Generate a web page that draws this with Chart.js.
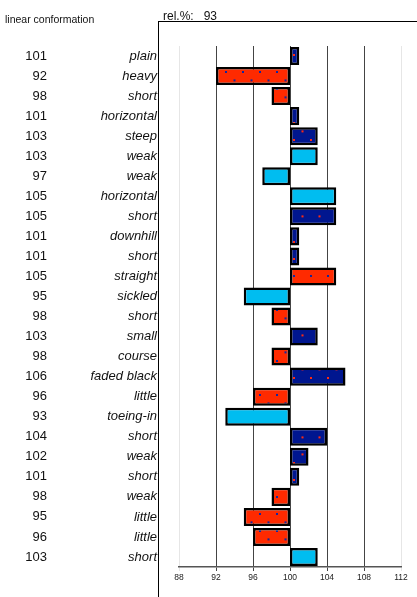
<!DOCTYPE html>
<html>
<head>
<meta charset="utf-8">
<script src="https://cdn.jsdelivr.net/npm/chart.js@4/dist/chart.umd.min.js"></script>
<style>
html,body{margin:0;padding:0;background:#fff;}
#wrap{position:relative;width:417px;height:597px;overflow:hidden;font-family:"Liberation Sans",Arial,sans-serif;}
#c{position:absolute;left:0;top:0;}
#title{position:absolute;left:5px;top:13px;font-size:10.5px;color:#111;}
#rel{position:absolute;left:163px;top:9px;font-size:12px;color:#111;}
#rel span{margin-left:10px;}
#frame{position:absolute;left:158px;top:21px;width:259px;height:580px;border-left:1.5px solid #000;border-top:1.5px solid #000;box-sizing:border-box;}
</style>
</head>
<body>
<div id="wrap">
<canvas id="c" width="417" height="597"></canvas>
<div id="frame"></div>
<div id="title">linear conformation</div>
<div id="rel">rel.%:<span>93</span></div>
</div>
<script>
const traits = ["plain","heavy","short","horizontal","steep","weak","weak","horizontal","short","downhill","short","straight","sickled","short","small","course","faded black","little","toeing-in","short","weak","short","weak","little","little","short"];
const values = [101,92,98,101,103,103,97,105,105,101,101,105,95,98,103,98,106,96,93,104,102,101,98,95,96,103];
const colorKeys = ["b","r","r","b","b","c","c","c","b","b","b","r","c","r","b","r","b","r","c","b","b","b","r","r","r","c"];
const xTicks = [88,92,96,100,104,108,112];
const baseValue = 100;

function makePattern(bg, dot){
  const p = document.createElement('canvas');
  p.width = 17; p.height = 17;
  const g = p.getContext('2d');
  g.fillStyle = bg; g.fillRect(0,0,17,17);
  g.fillStyle = dot;
  g.fillRect(4,3,2,2);
  g.fillRect(12.5,11.4,2,2);
  return document.getElementById('c').getContext('2d').createPattern(p,'repeat');
}
const fills = {
  b: makePattern('#00168f','#ff2a10'),
  r: makePattern('#ff2a00','#1028a0'),
  c: '#00bdf0'
};

const labelPlugin = {
  id:'rowLabels',
  afterDraw(chart){
    const ctx = chart.ctx, y = chart.scales.y;
    ctx.save();
    ctx.fillStyle = '#111';
    ctx.textBaseline = 'middle';
    ctx.textAlign = 'right';
    traits.forEach((t,i)=>{
      const py = y.getPixelForValue(i);
      ctx.font = '13px "Liberation Sans", Arial, sans-serif';
      ctx.fillText(String(values[i]), 47, py);
      ctx.font = 'italic 13px "Liberation Sans", Arial, sans-serif';
      ctx.fillText(t, 157, py);
    });
    ctx.restore();
  }
};

new Chart(document.getElementById('c'), {
  type:'bar',
  data:{
    labels: traits,
    datasets:[{
      data: values.map(v=>[baseValue, v]),
      backgroundColor: colorKeys.map(k=>fills[k]),
      borderColor:'#000',
      borderWidth:2.5,
      borderSkipped:false,
      barPercentage:0.9,
      categoryPercentage:1
    }]
  },
  options:{
    indexAxis:'y',
    responsive:false,
    animation:false,
    devicePixelRatio:1,
    layout:{padding:{left:179,right:16,top:46,bottom:8}},
    plugins:{legend:{display:false},tooltip:{enabled:false},title:{display:false}},
    scales:{
      x:{
        min:88,max:112,
        afterBuildTicks(s){ s.ticks = xTicks.map(v=>({value:v})); },
        afterFit(s){ s.height = 22; },
        grid:{
          color:(c)=> (c.tick && (c.tick.value===88 || c.tick.value===112)) ? '#e6e6e6' : '#444',
          lineWidth:1,
          drawTicks:true,
          tickLength:4
        },
        border:{display:true,color:'#555',width:1.5},
        ticks:{font:{size:8.5,family:'"Liberation Sans", Arial, sans-serif'},color:'#222',padding:2,maxRotation:0}
      },
      y:{display:false}
    }
  },
  plugins:[labelPlugin]
});
</script>
</body>
</html>
